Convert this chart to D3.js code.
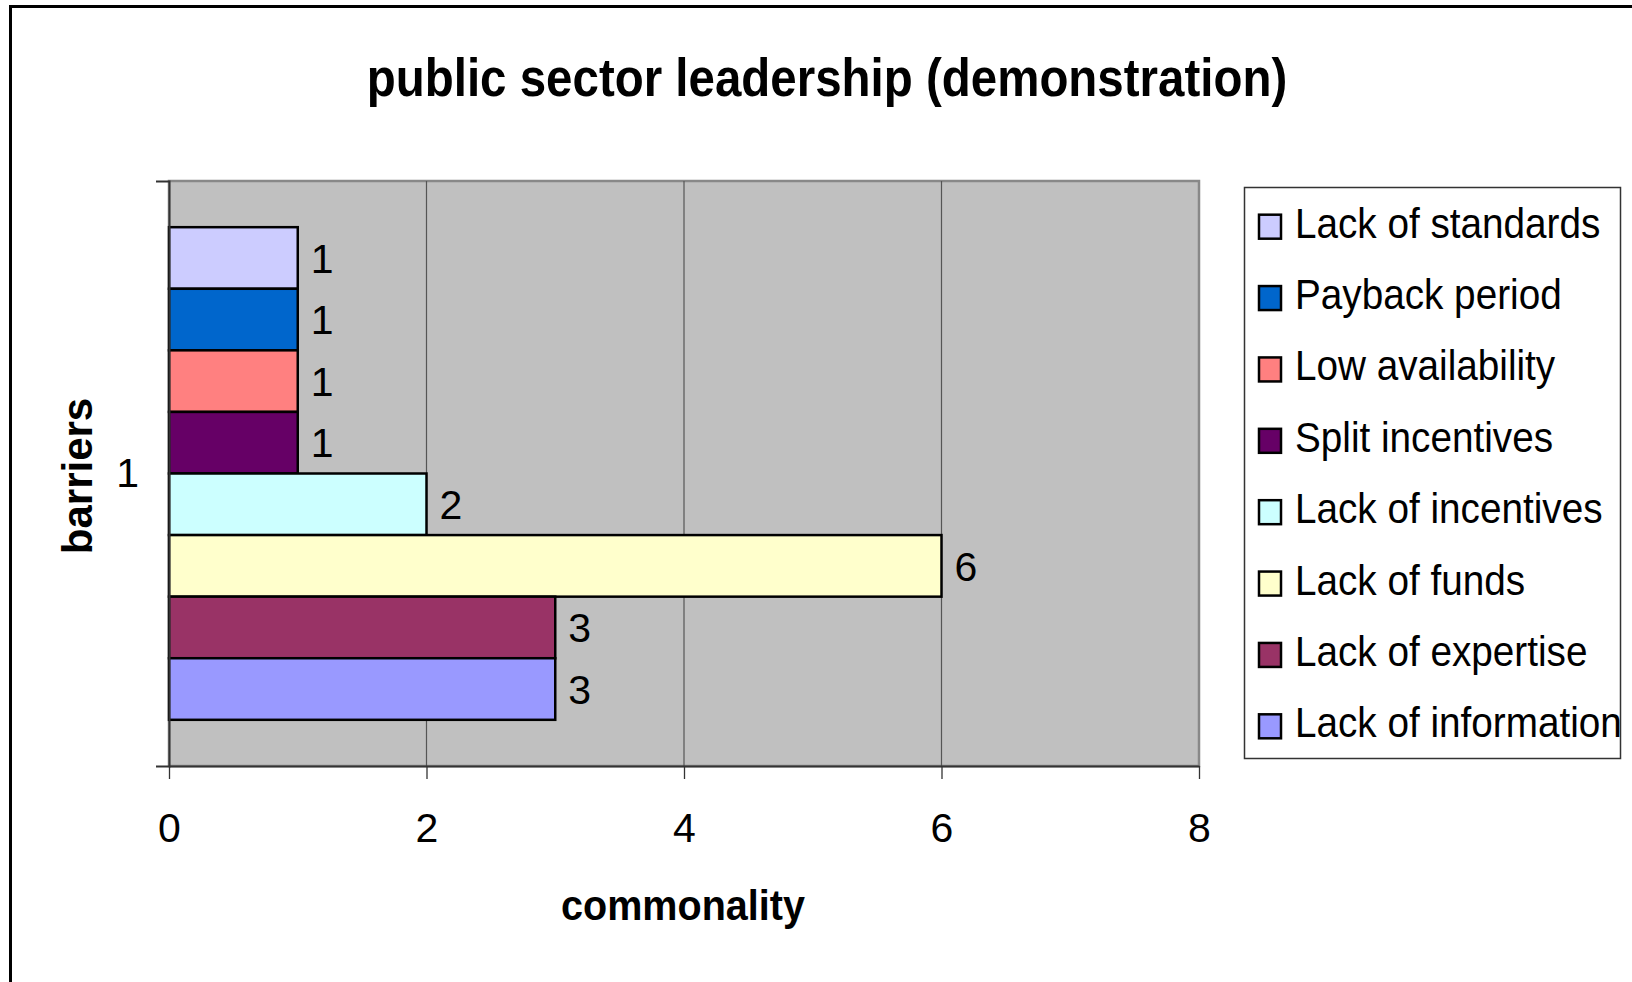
<!DOCTYPE html>
<html>
<head>
<meta charset="utf-8">
<script src="https://cdn.jsdelivr.net/npm/d3@7"></script>
<style>
  body { margin: 0; background: #fff; }
  text { font-family: "Liberation Sans", Arial, sans-serif; fill: #000; }
</style>
</head>
<body>
<div id="chart_id"></div>
<script>
// data, top bar first
var barriers = ["Lack of standards", "Payback period", "Low availability", "Split incentives",
                "Lack of incentives", "Lack of funds", "Lack of expertise", "Lack of information"]
var commonality = [1, 1, 1, 1, 2, 6, 3, 3]
var barColors = ["#CCCCFF", "#0066CC", "#FF8080", "#660066", "#CCFFFF", "#FFFFCC", "#993366", "#9999FF"]
var categories = ["1"]
var xTicks = [0, 2, 4, 6, 8]

var width = 1632
var height = 982

// plot area
var plotL = 169, plotR = 1199, plotT = 181, plotB = 766

var svg = d3.select("#chart_id")
  .append("svg")
    .attr("width", width)
    .attr("height", height)

// outer chart border (runs off the right and bottom)
svg.append("rect")
  .attr("x", 10.5).attr("y", 6.5)
  .attr("width", 1700).attr("height", 1100)
  .attr("fill", "none")
  .attr("stroke", "#000")
  .attr("stroke-width", 3)

var x = d3.scaleLinear().domain([0, 8]).range([plotL, plotR])

var y = d3.scaleBand().domain(categories).range([plotT, plotB])
  .paddingInner(0).paddingOuter(0.09375)

var ySeries = d3.scaleBand().domain(barriers).range([0, y.bandwidth()])

// plot background
svg.append("rect")
  .attr("x", plotL).attr("y", plotT)
  .attr("width", plotR - plotL).attr("height", plotB - plotT)
  .attr("fill", "#C0C0C0")
  .attr("stroke", "#888")
  .attr("stroke-width", 2.5)

// gridlines
svg.selectAll(".grid")
  .data(xTicks.filter(function(d) { return d > 0 && d < 8 }))
  .enter()
  .append("line")
    .attr("x1", x).attr("x2", x)
    .attr("y1", plotT).attr("y2", plotB)
    .attr("stroke", "#555")
    .attr("stroke-width", 1.2)

// bars
var cat = categories[0]
svg.selectAll(".bar")
  .data(barriers)
  .enter()
  .append("rect")
    .attr("x", x(0))
    .attr("y", function(d) { return y(cat) + ySeries(d) })
    .attr("width", function(d, i) { return x(commonality[i]) - x(0) })
    .attr("height", ySeries.bandwidth())
    .attr("fill", function(d, i) { return barColors[i] })
    .attr("stroke", "#000")
    .attr("stroke-width", 2.5)

// value labels
svg.selectAll(".val")
  .data(barriers)
  .enter()
  .append("text")
    .attr("x", function(d, i) { return x(commonality[i]) + 13 })
    .attr("y", function(d) { return y(cat) + ySeries(d) + ySeries.bandwidth() / 2 })
    .attr("dy", "0.36em")
    .attr("font-size", 41)
    .text(function(d, i) { return commonality[i] })

// x axis
var xAxis = svg.append("g")
  .attr("transform", "translate(0," + plotB + ")")
  .call(d3.axisBottom(x).tickValues(xTicks).tickSize(13).tickPadding(34).tickSizeOuter(0))
xAxis.select(".domain").attr("stroke", "#333").attr("stroke-width", 2)
xAxis.selectAll(".tick line").attr("stroke", "#333").attr("stroke-width", 1.3)
xAxis.selectAll(".tick text").attr("font-size", 41).attr("font-family", "Liberation Sans, Arial, sans-serif").attr("fill", "#000")

// y axis (single category, ticks at band edges)
var yAxis = svg.append("g")
  .attr("transform", "translate(" + plotL + ",0)")
  .call(d3.axisLeft(y).tickSize(0).tickPadding(30).tickSizeOuter(13))
yAxis.select(".domain").attr("stroke", "#333").attr("stroke-width", 2)
yAxis.selectAll(".tick text").attr("font-size", 41).attr("font-family", "Liberation Sans, Arial, sans-serif").attr("fill", "#000")

// title
svg.append("text")
  .attr("transform", "translate(827,96) scale(0.896,1)")
  .attr("text-anchor", "middle")
  .attr("font-size", 53)
  .attr("font-weight", "bold")
  .text("public sector leadership (demonstration)")

// axis titles
svg.append("text")
  .attr("transform", "translate(683,920) scale(0.92,1)")
  .attr("text-anchor", "middle")
  .attr("font-size", 43)
  .attr("font-weight", "bold")
  .text("commonality")

svg.append("text")
  .attr("transform", "translate(92,476) rotate(-90)")
  .attr("text-anchor", "middle")
  .attr("font-size", 42)
  .attr("font-weight", "bold")
  .text("barriers")

// legend
var legendY = d3.scaleBand().domain(barriers).range([191, 762])

svg.append("rect")
  .attr("x", 1244.5).attr("y", 187.5)
  .attr("width", 376).attr("height", 571)
  .attr("fill", "#fff")
  .attr("stroke", "#333")
  .attr("stroke-width", 1.5)

var legend = svg.selectAll(".legend")
  .data(barriers)
  .enter()
  .append("g")
    .attr("transform", function(d) { return "translate(0," + (legendY(d) + legendY.bandwidth() / 2) + ")" })

legend.append("rect")
  .attr("x", 1259).attr("y", -12)
  .attr("width", 22).attr("height", 24)
  .attr("fill", function(d, i) { return barColors[i] })
  .attr("stroke", "#000")
  .attr("stroke-width", 2.5)

legend.append("text")
  .attr("transform", "translate(1295,11) scale(0.90,1)")
  .attr("font-size", 43)
  .text(function(d) { return d })
</script>
</body>
</html>
